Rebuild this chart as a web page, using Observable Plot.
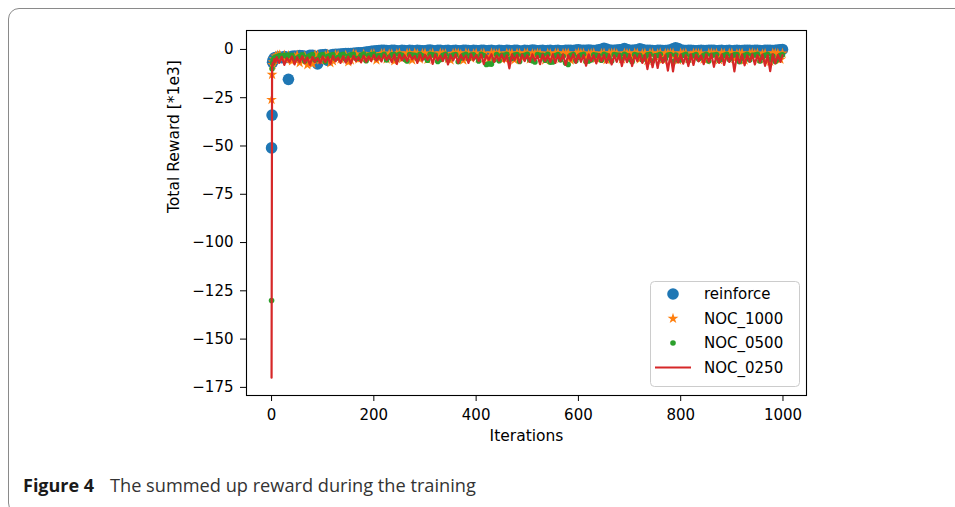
<!DOCTYPE html>
<html><head><meta charset="utf-8">
<script src="https://cdn.jsdelivr.net/npm/d3@7"></script>
<script src="https://cdn.jsdelivr.net/npm/@observablehq/plot@0.6"></script>
<style>
html,body{margin:0;padding:0;background:#fff}
body{width:955px;height:507px;overflow:hidden;position:relative;font-family:"DejaVu Sans",sans-serif}
#page{position:absolute;left:7.5px;top:7.5px;width:1020px;height:506px;border:1px solid #8a8a8a;border-radius:11px;box-sizing:border-box}
#chart{position:absolute;left:0;top:0}
#overlay{position:absolute;left:0;top:0}
</style></head>
<body>
<div id="page"></div>
<div id="chart"></div>
<svg id="overlay" width="955" height="507"></svg>
<script>
// Iterations sampled for the scatter series (grid A)
const iterA = [0,1,2,3,5,8,12,16,20,25,30,33,
40,50,60,70,80,90,100,110,120,130,
140,150,160,170,180,190,200,210,220,230,
240,250,260,270,280,290,300,310,320,330,
340,350,360,370,380,390,400,410,420,430,
440,450,460,470,480,490,500,510,520,530,
540,550,560,570,580,590,600,610,620,630,
640,650,660,670,680,690,700,710,720,730,
740,750,760,770,780,790,800,810,820,830,
840,850,860,870,880,890,900,910,920,930,
940,950,960,970,980,990,999];

// Iterations sampled for the scatter series (grid C, in between grid A)
const iterC = [45,55,65,75,85,95,105,115,125,135,
145,155,165,175,185,195,205,215,225,235,
245,255,265,275,285,295,305,315,325,335,
345,355,365,375,385,395,405,415,425,435,
445,455,465,475,485,495,505,515,525,535,
545,555,565,575,585,595,605,615,625,635,
645,655,665,675,685,695,705,715,725,735,
745,755,765,775,785,795,805,815,825,835,
845,855,865,875,885,895,905,915,925,935,
945,955,965,975,985,995];

const reinforce = [-51,-34,-6.7,-5.5,-4.5,-4.2,-4,-3.9,-4.3,-3.7,-4.1,-15.5,
-3.5,-3.6,-3.3,-3.8,-3.1,-7.5,-2.8,-5.7,-2.6,-2.5,
-2.3,-2.2,-2.0,-1.8,-1.6,-1.2,-0.8,-0.6,-0.4,-0.7,
-0.5,-0.8,-0.6,-0.4,-0.9,-0.6,-0.7,-0.3,-0.8,-0.5,
-0.6,-0.9,-0.4,-0.7,-0.5,-0.8,-0.6,-0.4,-0.7,-0.5,
-0.8,-0.6,-0.4,-0.7,-0.5,-0.9,-0.6,-0.3,-0.7,-0.5,
-0.6,-0.8,-0.4,-0.7,-0.5,-0.6,-0.2,-0.5,-0.3,-0.6,
-0.2,0.6,-0.3,-0.5,-0.2,0.4,-0.4,-0.3,0.3,-0.5,
-0.4,-0.7,-0.5,-0.6,-0.3,0.8,-0.4,-0.6,-0.5,-0.7,
-0.5,-0.6,-0.4,-0.7,-0.5,-0.6,-0.8,-0.5,-0.6,-0.4,
-0.6,-0.5,-0.7,-0.4,-0.6,-0.3,0];
const reinforceC = [-3.4,-3.2,-3.6,-3.0,-4.0,-2.9,-2.7,-3.1,-2.5,-2.4,
-2.2,-2.1,-1.9,-1.7,-1.4,-1.0,-0.7,-0.5,-0.6,-0.5,
-0.7,-0.5,-0.8,-0.6,-0.5,-0.7,-0.4,-0.6,-0.5,-0.8,
-0.5,-0.6,-0.7,-0.5,-0.6,-0.4,-0.7,-0.5,-0.6,-0.7,
-0.5,-0.7,-0.6,-0.5,-0.8,-0.5,-0.6,-0.4,-0.6,-0.7,
-0.5,-0.6,-0.7,-0.5,-0.4,-0.3,-0.5,-0.4,-0.5,-0.4,
0.1,0.2,-0.4,-0.3,-0.1,0,-0.5,-0.2,-0.1,-0.4,
-0.6,-0.5,-0.6,-0.4,0.3,0.5,-0.5,-0.5,-0.6,-0.6,
-0.6,-0.5,-0.5,-0.6,-0.7,-0.5,-0.6,-0.6,-0.5,-0.5,
-0.5,-0.6,-0.5,-0.5,-0.4,-0.2];

const noc1000 = [-26,-13,-8,-6.5,-5,-3.5,-3,-2.8,-4.5,-3,-5.5,-3.2,
-6,-3,-4.5,-8,-7.5,-3,-5,-2.6,-6,-3,
-4,-6.5,-2.4,-5,-2.5,-4.5,-2.2,-4.5,-2,-2.4,
-6,-1.9,-3.5,-2.1,-1.8,-5,-2,-2.4,-4,-1.9,
-2.2,-5.5,-1.9,-2.5,-1.8,-4.5,-2,-2.2,-3.8,-1.8,
-2.3,-5,-1.9,-2.1,-1.9,-4.2,-1.8,-2.2,-1.9,-3.5,
-2,-5.2,-1.8,-2.1,-1.9,-4,-1.7,-2,-2.5,-1.8,
-4.8,-1.9,-2.1,-1.8,-3.8,-1.9,-2.3,-1.8,-5,-2,
-1.9,-3.5,-1.8,-2.1,-1.9,-4.5,-1.8,-2,-3,-1.9,
-2.1,-5.5,-1.8,-2,-1.9,-4,-1.8,-2.2,-1.9,-3.6,
-1.8,-2,-2.3,-6,-1.9,-2.1,-2];
const noc1000C = [-4,-7,-3.5,-6.5,-2.8,-5.5,-3.2,-7,-2.7,-5,
-3,-5.5,-2.6,-4.5,-3.8,-2.4,-5.5,-2.2,-5,-2.3,
-2.2,-4.8,-2,-5.5,-2.3,-2.1,-5.2,-2,-4.6,-2.2,
-4.8,-2.1,-2,-5.6,-2.2,-2.3,-4.5,-2,-5,-2.1,
-2,-4.6,-2.2,-5.4,-2.1,-2,-5,-2.3,-2.1,-5.5,
-2.2,-2,-4.8,-2.1,-5.6,-2.2,-2,-5,-2.1,-4.6,
-2.1,-5.4,-2,-2.2,-5,-2.1,-4.4,-2,-2.2,-5.8,
-2,-2.2,-5.2,-2.1,-2,-5.6,-2.2,-4.8,-2,-2.1,
-5,-2,-2.2,-5.4,-2.1,-2,-4.8,-2.2,-5.6,-2,
-2.2,-5,-2.1,-6.2,-2,-5.2];

const noc0500 = [-130,-10,-7,-5.5,-4.5,-4,-3.5,-3.2,-3.4,-3,-3.6,-2.9,
-3.1,-4.5,-2.8,-3.8,-2.7,-5,-2.6,-3.6,-2.6,-4.2,
-2.5,-3.4,-2.5,-4.6,-2.4,-3.1,-2.4,-3.3,-2.5,-4,
-2.6,-2.5,-5,-2.6,-3.1,-2.5,-4.2,-2.5,-3,-5.2,
-2.5,-3.5,-2.6,-4.5,-2.5,-2.9,-3.8,-2.5,-7.8,-7.6,
-2.6,-3.1,-2.5,-4.6,-2.6,-3.3,-2.5,-5.8,-2.7,-3.1,
-2.5,-6.5,-2.6,-3.5,-7.8,-2.6,-4,-2.5,-6,-2.8,
-3.3,-2.5,-4.5,-2.6,-3.1,-2.5,-5,-2.6,-3,-4,
-2.5,-3.3,-2.5,-4.8,-2.6,-2.9,-5.5,-2.5,-3.5,-2.6,
-4.2,-2.5,-3.1,-2.6,-5,-2.5,-3.3,-2.6,-4.5,-2.5,
-3,-2.5,-4,-2.6,-3.4,-5,-2.8];
const noc0500C = [-5,-3.5,-6,-3.2,-5.5,-3,-6.2,-3.1,-4.8,-2.9,
-5.2,-2.8,-4.6,-3,-5.8,-2.7,-4.4,-3.2,-5.5,-2.8,
-5.2,-3,-6,-2.9,-4.8,-3.3,-5.6,-2.8,-6.2,-3,
-5.4,-2.9,-6.4,-3.1,-5,-2.8,-6,-3.2,-7.5,-5.5,
-5.8,-3,-5.2,-2.9,-6.2,-3.1,-5.5,-6.5,-3,-5.6,
-6.6,-3.2,-5.4,-7,-3,-5.8,-2.9,-6.2,-5.5,-3.1,
-5.6,-3,-6,-2.9,-5.2,-3.2,-6.4,-3,-5.5,-2.8,
-6,-3.1,-5.4,-2.9,-6.2,-5.5,-3,-5.8,-3.2,-5,
-3,-6,-2.9,-5.6,-3.1,-5.2,-2.8,-6.4,-3,-5.5,
-2.9,-6,-3.1,-5.2,-6.2,-3];

// Iterations sampled for the line series
const iterB = [0,1,2,3,5,8,
10,15,20,25,30,35,40,45,
50,55,60,65,70,75,80,85,90,95,
100,105,110,115,120,125,130,135,140,145,
150,155,160,165,170,175,180,185,190,195,
200,205,210,215,220,225,230,235,240,245,
250,255,260,265,270,275,280,285,290,295,
300,305,310,315,320,325,330,335,340,345,
350,355,360,365,370,375,380,385,390,395,
400,405,410,415,420,425,430,435,440,445,
450,455,460,465,470,475,480,485,490,495,
500,505,510,515,520,525,530,535,540,545,
550,555,560,565,570,575,580,585,590,595,
600,605,610,615,620,625,630,635,640,645,
650,655,660,665,670,675,680,685,690,695,
700,705,710,715,720,725,730,735,740,745,
750,755,760,765,770,775,780,785,790,795,
800,805,810,815,820,825,830,835,840,845,
850,855,860,865,870,875,880,885,890,895,
900,905,910,915,920,925,930,935,940,945,
950,955,960,965,970,975,980,985,990,995,
999];

const noc0250 = [-170,-9,-7,-8,-5,-6.5,
-4,-7,-3.8,-8,-4.5,-6.5,-3.6,-7.8,
-4,-6.8,-3.5,-7,-4.2,-8,-3.8,-6.5,-4.5,-7.2,
-3.6,-6.6,-4,-7.5,-3.4,-6.2,-4.2,-7,-3.5,-6.8,
-3.8,-7.4,-3.3,-6,-4,-6.7,-3.2,-6.4,-3.6,-6,
-2.8,-5.8,-3.5,-6.2,-2.6,-5.5,-3.2,-6.6,-2.7,-7.5,
-2.5,-5.6,-3,-6,-2.6,-5.2,-3.3,-7,-2.5,-5.8,
-2.8,-5.4,-3,-7.5,-2.6,-5.6,-3.2,-6,-2.5,-7.8,
-3,-5.8,-2.6,-7,-2.8,-5.5,-3.1,-7,-2.5,-5.6,
-2.9,-6,-2.6,-7.5,-3,-5.4,-2.5,-6.5,-3.2,-5.8,
-2.6,-6.2,-3,-9.8,-2.5,-5.6,-2.8,-7,-2.6,-6,
-2.9,-6.5,-2.5,-5.8,-3.2,-7.6,-2.6,-6,-3,-6.6,
-2.5,-7,-2.8,-6,-2.6,-8,-3,-5.8,-2.5,-7,
-2.7,-6.4,-2.9,-8.4,-2.5,-6,-3,-7.2,-2.6,-6.2,
-2.8,-7,-2.5,-7.8,-3.1,-6.4,-2.6,-8.6,-2.8,-6.6,
-2.5,-8.6,-3,-6,-2.6,-7,-2.8,-10.2,-2.5,-9.2,
-2.9,-9.6,-2.6,-7,-3,-11,-2.5,-11.4,-2.8,-6.8,
-2.6,-7.4,-3,-8.6,-2.5,-8,-2.8,-6.2,-3.1,-7.6,
-2.6,-6.4,-2.5,-9,-2.9,-7,-2.6,-8,-3,-6.5,
-2.5,-11.4,-2.8,-7,-2.6,-8.2,-3,-6.4,-2.5,-7.8,
-2.9,-6.6,-2.6,-8.5,-3,-11.2,-2.5,-7.2,-2.8,-6.5,
-3];

const seriesNames = ["reinforce", "NOC_1000", "NOC_0500", "NOC_0250"];
const seriesColors = ["#1f77b4", "#ff7f0e", "#2ca02c", "#d62728"];
const xTicks = [0, 200, 400, 600, 800, 1000];
const yTicks = [0, -25, -50, -75, -100, -125, -150, -175];
const xLabel = "Iterations";
const yLabel = "Total Reward [*1e3]";
const captionBold = "Figure 4";
const captionText = "The summed up reward during the training";

const pts = (xs, ys) => xs.map((t, i) => ({t, v: ys[i]}));
const dBlue = pts(iterA, reinforce).concat(pts(iterC, reinforceC)).sort((a, b) => a.t - b.t);
const dOrange = pts(iterA, noc1000).concat(pts(iterC, noc1000C)).sort((a, b) => a.t - b.t);
const dGreen = pts(iterA, noc0500).concat(pts(iterC, noc0500C)).sort((a, b) => a.t - b.t);
const dRed = pts(iterB, noc0250);

const fmt = d => String(d).replace("-", "\u2212");
const starR = 3.4;

const chart = Plot.plot({
  width: 955, height: 450,
  marginLeft: 246, marginRight: 149, marginTop: 30, marginBottom: 55,
  x: {domain: [-49, 1046]},
  y: {domain: [-179.2, 9.8]},
  style: {fontFamily: "DejaVu Sans", fontSize: "15px", color: "#000", background: "transparent", overflow: "visible"},
  marks: [
    Plot.dot(dBlue, {x: "t", y: "v", r: 5.8, fill: seriesColors[0]}),
    Plot.dot(dOrange, {x: "t", y: "v", r: starR, symbol: "star", fill: seriesColors[1]}),
    Plot.dot(dGreen, {x: "t", y: "v", r: 2.8, fill: seriesColors[2]}),
    Plot.line(dRed, {x: "t", y: "v", stroke: seriesColors[3], strokeWidth: 2.2}),
    Plot.frame({stroke: "#000", strokeWidth: 1.1}),
    Plot.axisY(yTicks, {tickSize: 6, tickPadding: 7, tickFormat: fmt, label: null, fontSize: 15}),
    Plot.axisX(xTicks, {tickSize: 6, tickPadding: 8, tickFormat: fmt, label: null, fontSize: 15}),
    Plot.text([yLabel], {frameAnchor: "left", dx: -72.5, rotate: -90, text: d => d, fontSize: 15.5}),
    Plot.text([xLabel], {frameAnchor: "bottom", dy: 45, text: d => d, fontSize: 15.5})
  ]
});
document.getElementById("chart").appendChild(chart);

// Legend + caption overlay
const ov = d3.select("#overlay");
const lg = ov.append("g");
lg.append("rect").attr("x", 650.5).attr("y", 281.5).attr("width", 149).attr("height", 105)
  .attr("rx", 4).attr("fill", "rgba(255,255,255,0.8)").attr("stroke", "#cccccc").attr("stroke-width", 1);
const rowY = [294, 318.5, 343, 367.5];
seriesNames.forEach((name, i) => {
  const y = rowY[i];
  if (i === 0) lg.append("circle").attr("cx", 673).attr("cy", y).attr("r", 5.8).attr("fill", seriesColors[0]);
  if (i === 1) lg.append("path").attr("transform", `translate(673,${y})`)
      .attr("d", d3.symbol(d3.symbolStar, starR * starR * Math.PI)()).attr("fill", seriesColors[1]);
  if (i === 2) lg.append("circle").attr("cx", 673).attr("cy", y).attr("r", 2.8).attr("fill", seriesColors[2]);
  if (i === 3) lg.append("line").attr("x1", 655).attr("x2", 691).attr("y1", y).attr("y2", y)
      .attr("stroke", seriesColors[3]).attr("stroke-width", 2);
  lg.append("text").attr("x", 704).attr("y", y).attr("dy", "0.35em")
    .attr("font-family", "DejaVu Sans").attr("font-size", 15).attr("fill", "#000").text(name);
});
ov.append("text").attr("x", 23).attr("y", 492).attr("font-family", "Open Sans")
  .attr("font-size", 18).attr("font-weight", "bold").attr("fill", "#1a1a1a").text(captionBold);
ov.append("text").attr("x", 110).attr("y", 492).attr("font-family", "Open Sans")
  .attr("font-size", 18.2).attr("fill", "#333").text(captionText);
</script>
</body></html>
